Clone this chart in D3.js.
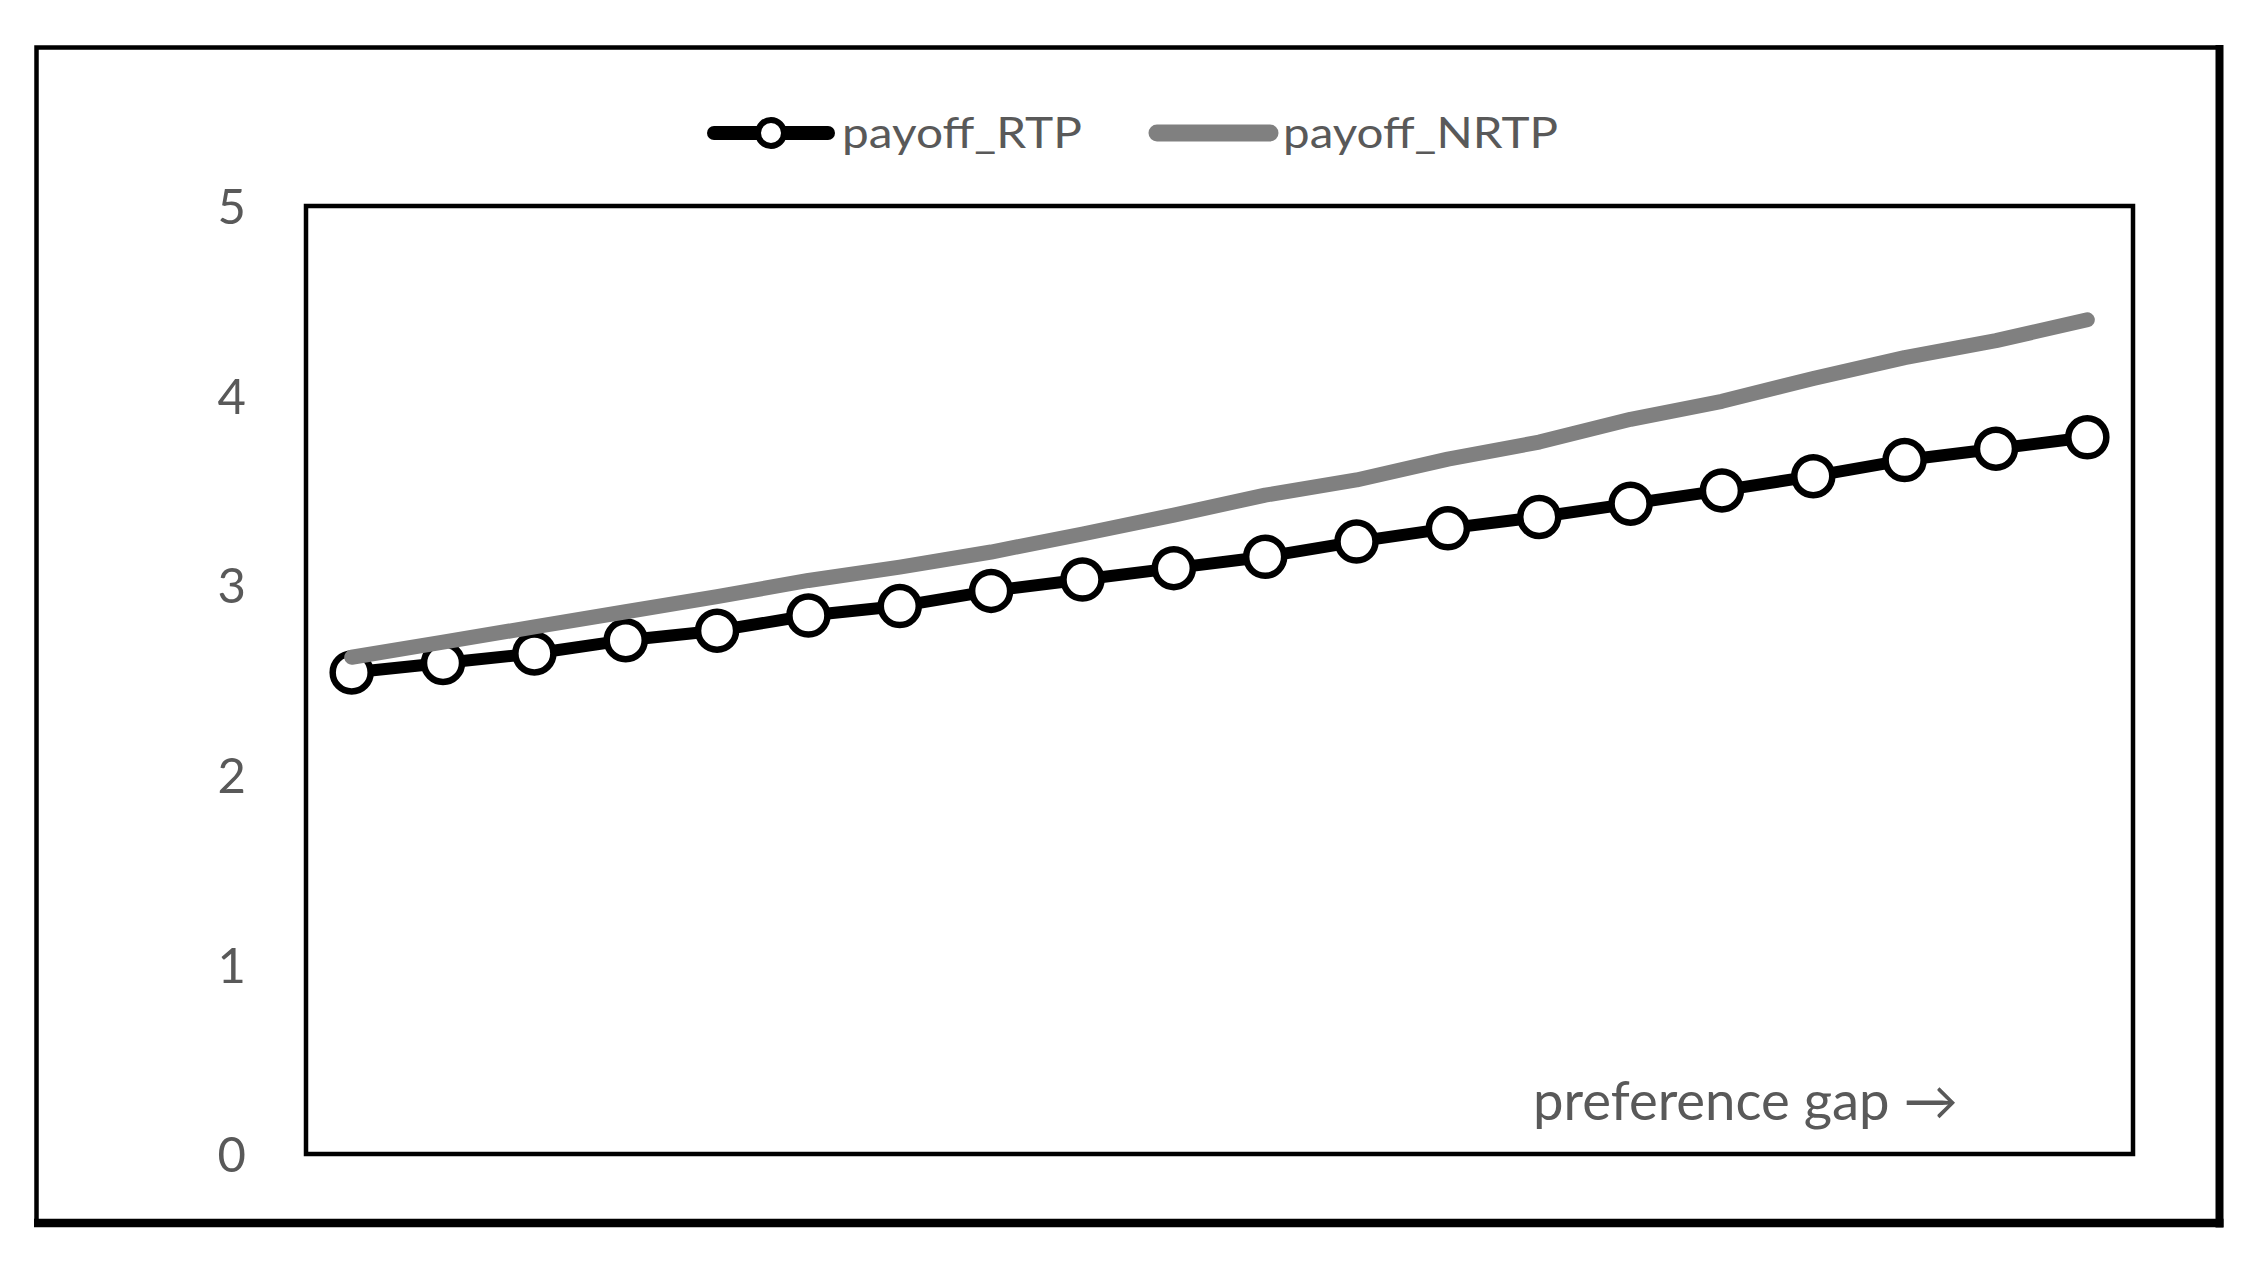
<!DOCTYPE html>
<html>
<head>
<meta charset="utf-8">
<script src="https://cdn.jsdelivr.net/npm/d3@7"></script>
<style>
  html, body { margin: 0; padding: 0; background: #ffffff; }
  svg { display: block; }
</style>
</head>
<body>
<svg id="chart" width="2254" height="1262"></svg>
<script>
// ---- data ----
const categories = [1,2,3,4,5,6,7,8,9,10,11,12,13,14,15,16,17,18,19,20];
const rtpValues  = [2.54, 2.59, 2.64, 2.71, 2.76, 2.84, 2.89, 2.97, 3.03, 3.09,
                    3.15, 3.23, 3.30, 3.36, 3.43, 3.50, 3.575, 3.66, 3.72, 3.78];
const nrtpValues = [2.62, 2.70, 2.78, 2.86, 2.94, 3.025, 3.095, 3.175, 3.27, 3.37,
                    3.475, 3.555, 3.665, 3.755, 3.875, 3.97, 4.09, 4.20, 4.29, 4.40];
const yTicks = [0, 1, 2, 3, 4, 5];
const seriesNames = ["payoff_RTP", "payoff_NRTP"];
const xAxisNote = "preference gap \u2192";

// ---- layout ----
const svg = d3.select("#chart");
const plot = { left: 306, right: 2133, top: 206, bottom: 1154 };
const textColor = "#595959";
const fontFam = "Lato, 'Open Sans', 'DejaVu Sans', sans-serif";

const x = d3.scalePoint().domain(categories).range([plot.left, plot.right]).padding(0.5);
const y = d3.scaleLinear().domain([0, 5]).range([plot.bottom, plot.top]);

// outer frame
svg.append("rect").attr("x", 36.5).attr("y", 47.5)
  .attr("width", 2219.5 - 36.5).attr("height", 1223 - 47.5)
  .attr("fill", "none").attr("stroke", "#000").attr("stroke-width", 4.5);
svg.append("line").attr("x1", 2219.5).attr("x2", 2219.5).attr("y1", 45).attr("y2", 1227.5)
  .attr("stroke", "#000").attr("stroke-width", 8);
svg.append("line").attr("x1", 34).attr("x2", 2223.5).attr("y1", 1223).attr("y2", 1223)
  .attr("stroke", "#000").attr("stroke-width", 8.5);

// plot frame
svg.append("rect").attr("x", plot.left).attr("y", plot.top)
  .attr("width", plot.right - plot.left).attr("height", plot.bottom - plot.top)
  .attr("fill", "none").attr("stroke", "#000").attr("stroke-width", 4.5);

// y axis
const yAxis = d3.axisLeft(y).tickValues(yTicks).tickSize(0).tickPadding(60).tickFormat(d3.format("d"));
const gy = svg.append("g").attr("transform", `translate(${plot.left},0)`).call(yAxis);
gy.select(".domain").remove();
gy.selectAll("text").attr("fill", textColor).style("font-family", fontFam)
  .style("font-size", "49px").attr("dy", "0.36em");

// series RTP (black with markers)
const lineGen = d3.line().x((d, i) => x(categories[i])).y(d => y(d));
svg.append("path").datum(rtpValues).attr("d", lineGen)
  .attr("fill", "none").attr("stroke", "#000").attr("stroke-width", 12)
  .attr("stroke-linejoin", "round").attr("stroke-linecap", "round");
svg.append("g").selectAll("circle").data(rtpValues).join("circle")
  .attr("cx", (d, i) => x(categories[i])).attr("cy", d => y(d)).attr("r", 19)
  .attr("fill", "#fff").attr("stroke", "#000").attr("stroke-width", 6.5);

// series NRTP (gray, drawn on top)
svg.append("path").datum(nrtpValues).attr("d", lineGen)
  .attr("fill", "none").attr("stroke", "#808080").attr("stroke-width", 15)
  .attr("stroke-linejoin", "round").attr("stroke-linecap", "round");

// legend
const lg = svg.append("g");
lg.append("line").attr("x1", 714).attr("x2", 828).attr("y1", 133).attr("y2", 133)
  .attr("stroke", "#000").attr("stroke-width", 14).attr("stroke-linecap", "round");
lg.append("circle").attr("cx", 771).attr("cy", 133).attr("r", 13)
  .attr("fill", "#fff").attr("stroke", "#000").attr("stroke-width", 6);
lg.append("text").attr("x", 842).attr("y", 148).text(seriesNames[0])
  .attr("fill", textColor).style("font-family", fontFam).style("font-size", "43px")
  .attr("textLength", 240).attr("lengthAdjust", "spacingAndGlyphs");
lg.append("line").attr("x1", 1157).attr("x2", 1270).attr("y1", 133).attr("y2", 133)
  .attr("stroke", "#808080").attr("stroke-width", 17).attr("stroke-linecap", "round");
lg.append("text").attr("x", 1283).attr("y", 148).text(seriesNames[1])
  .attr("fill", textColor).style("font-family", fontFam).style("font-size", "43px")
  .attr("textLength", 275).attr("lengthAdjust", "spacingAndGlyphs");

// x note
svg.append("text").attr("x", 1533).attr("y", 1120).text(xAxisNote)
  .attr("fill", textColor).style("font-family", fontFam).style("font-size", "54px")
  .attr("textLength", 425).attr("lengthAdjust", "spacingAndGlyphs");
</script>
</body>
</html>
